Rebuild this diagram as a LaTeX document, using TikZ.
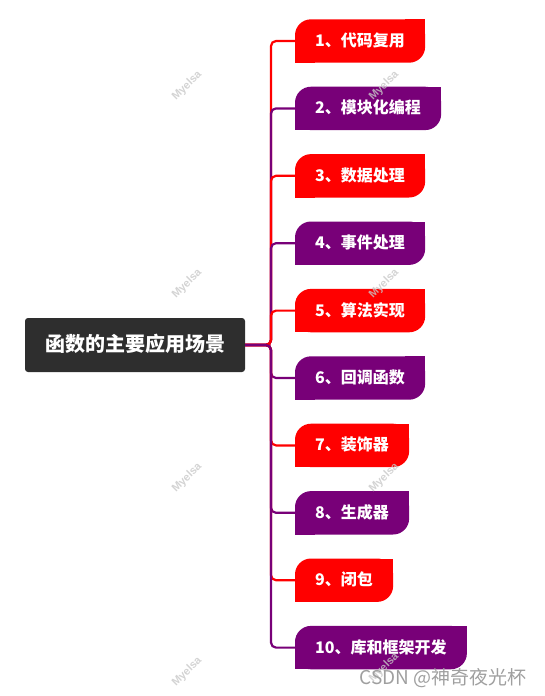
\documentclass[tikz,border=0pt]{standalone}
\usepackage{fontspec}
\newfontfamily\cjk{Noto Sans CJK SC}
\newfontfamily\wmfont{Liberation Sans}
\usetikzlibrary{backgrounds,calc}
\definecolor{leafred}{RGB}{255,0,0}
\definecolor{leafpurple}{RGB}{120,0,120}
\definecolor{rootgray}{RGB}{46,46,46}
\definecolor{wmgray}{RGB}{200,200,200}
\tikzset{
  rootbox/.style={fill=rootgray, rounded corners=3pt, text=white, font=\cjk\bfseries\fontsize{20}{22}\selectfont,
    minimum width=220pt, minimum height=54pt, inner xsep=20pt, text height=15pt, text depth=3pt},
  leaf/.style={anchor=west, text=white, font=\cjk\bfseries\fontsize{16}{18}\selectfont,
    inner xsep=20pt, inner ysep=0pt, minimum height=43pt, text height=13pt, text depth=2pt},
  conn/.style={line width=2.2pt, rounded corners=5pt},
  wm/.style={rotate=45, text=wmgray, opacity=0.8, font=\wmfont\bfseries\fontsize{11}{12}\selectfont},
}
\newcommand{\leafbox}[4]{%
  \node[leaf] (#1) at (295,#2) {#4};
  \begin{scope}[on background layer]
    \fill[#3, rounded corners=16pt] (#1.south west) rectangle (#1.north east);
    \fill[#3] (#1.north east) rectangle ++(-20,20);
    \fill[#3] (#1.south west) rectangle ++(20,-20);
  \end{scope}
}
\begin{document}
\begin{tikzpicture}[x=1pt, y=-1pt]
\useasboundingbox (0,0) rectangle (545,696);
\node[rootbox] (root) at (135,345) {函数的主要应用场景};
\coordinate (tr) at (271,0);
\leafbox{b1}{41}{leafred}{1、代码复用}
\leafbox{b2}{108.4}{leafpurple}{2、模块化编程}
\leafbox{b3}{175.8}{leafred}{3、数据处理}
\leafbox{b4}{243.2}{leafpurple}{4、事件处理}
\leafbox{b5}{310.6}{leafred}{5、算法实现}
\leafbox{b6}{378}{leafpurple}{6、回调函数}
\leafbox{b7}{445.4}{leafred}{7、装饰器}
\leafbox{b8}{512.8}{leafpurple}{8、生成器}
\leafbox{b9}{580.2}{leafred}{9、闭包}
\leafbox{b10}{647.6}{leafpurple}{10、库和框架开发}
\foreach \b/\c in {b1/leafred,b2/leafpurple,b3/leafred,b4/leafpurple,b5/leafred,b6/leafpurple,b7/leafred,b8/leafpurple,b9/leafred,b10/leafpurple}{
  \draw[conn, \c] (root.east) -- (root.east -| tr) |- (\b.west);
}
\foreach \x/\y [count=\i] in {187/86,384/86,187/284,384/284,187/478,384/478,187/672,384/668}{
  \node[wm] (wm\i) at (\x,\y) {Myelsa};
}
\node[anchor=east, text=gray!75, font=\cjk\fontsize{19}{21}\selectfont] (csdn) at (530,678) {CSDN @神奇夜光杯};
\end{tikzpicture}
\end{document}
